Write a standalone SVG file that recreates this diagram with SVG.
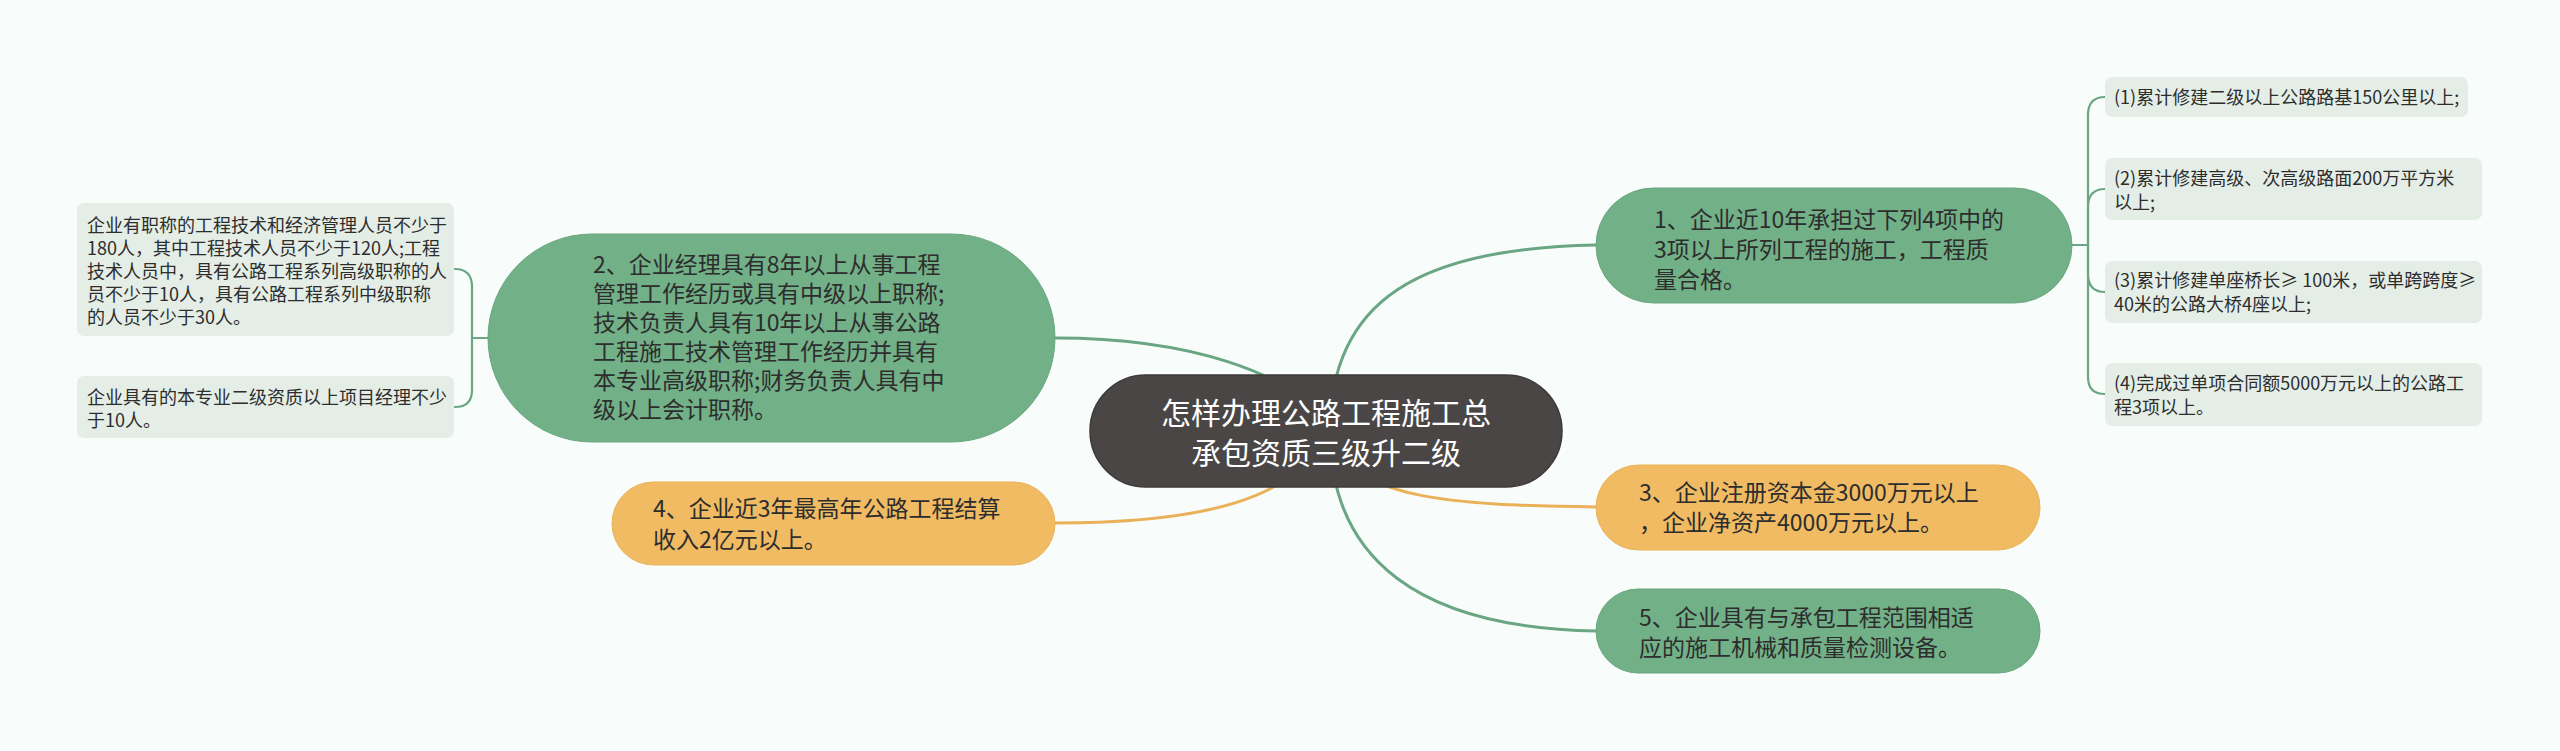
<svg xmlns="http://www.w3.org/2000/svg" width="2560" height="751" viewBox="0 0 2560 751">
<style>
text{font-family:"Noto Sans CJK SC","Noto Sans",sans-serif;fill:#2d2d2d}
.l1{font-size:23px}
.dt{font-size:18px}
.root{font-size:30px;fill:#ffffff;text-anchor:middle}
.green{fill:#72b088;stroke:#68a67e;stroke-width:1}
.orange{fill:#f0bb63;stroke:#e9b258;stroke-width:1}
.detail{fill:#e4eee7}
.cg{fill:none;stroke:#6aa683;stroke-width:3;stroke-linecap:round}
.co{fill:none;stroke:#ebb158;stroke-width:3;stroke-linecap:round}
.cd{fill:none;stroke:#6aa683;stroke-width:2.2;stroke-linecap:round}
</style>
<rect width="2560" height="751" fill="#f8fdfc"/>
<g id="connectors">
<path class="cg" d="M1055 338 C1180 338 1300 370 1326 431"/>
<path class="cg" d="M1330 431 C1330 300 1420 248 1596 245"/>
<path class="cg" d="M1330 431 C1330 560 1420 628 1596 631"/>
<path class="co" d="M1326 431 C1350 500 1450 505 1596 507"/>
<path class="co" d="M1326 431 C1300 500 1200 523 1055 523"/>
<path class="cd" d="M488 338 H472 V287 Q472 269 455 269"/>
<path class="cd" d="M472 338 V390 Q472 407 455 407"/>
<path class="cd" d="M2072 245 H2088 V115 Q2088 97 2105 97"/>
<path class="cd" d="M2088 245 V207 Q2088 189 2105 189"/>
<path class="cd" d="M2088 245 V274 Q2088 292 2105 292"/>
<path class="cd" d="M2088 245 V377 Q2088 394 2105 394"/>
</g>
<g id="root">
<rect x="1090" y="375" width="472" height="112" rx="56" fill="#4b4646" stroke="#3e3a3a" stroke-width="1.5"/>
<text class="root" x="1326" y="424">怎样办理公路工程施工总</text>
<text class="root" x="1326" y="464">承包资质三级升二级</text>
</g>
<g id="n1">
<rect class="green" x="1596" y="188" width="476" height="115" rx="57.5"/>
<text class="l1" x="1654" y="228">1、企业近10年承担过下列4项中的</text>
<text class="l1" x="1654" y="258">3项以上所列工程的施工，工程质</text>
<text class="l1" x="1654" y="288">量合格。</text>
</g>
<g id="n2">
<rect class="green" x="488" y="234" width="567" height="208" rx="104"/>
<text class="l1" x="593" y="273">2、企业经理具有8年以上从事工程</text>
<text class="l1" x="593" y="302">管理工作经历或具有中级以上职称;</text>
<text class="l1" x="593" y="331">技术负责人具有10年以上从事公路</text>
<text class="l1" x="593" y="360">工程施工技术管理工作经历并具有</text>
<text class="l1" x="593" y="389">本专业高级职称;财务负责人具有中</text>
<text class="l1" x="593" y="418">级以上会计职称。</text>
</g>
<g id="n3">
<rect class="orange" x="1596" y="465" width="444" height="85" rx="42.5"/>
<text class="l1" x="1639" y="501">3、企业注册资本金3000万元以上</text>
<text class="l1" x="1639" y="531">，企业净资产4000万元以上。</text>
</g>
<g id="n4">
<rect class="orange" x="612" y="482" width="443" height="83" rx="41.5"/>
<text class="l1" x="653" y="517">4、企业近3年最高年公路工程结算</text>
<text class="l1" x="653" y="548">收入2亿元以上。</text>
</g>
<g id="n5">
<rect class="green" x="1596" y="589" width="444" height="84" rx="42"/>
<text class="l1" x="1639" y="626">5、企业具有与承包工程范围相适</text>
<text class="l1" x="1639" y="656">应的施工机械和质量检测设备。</text>
</g>
<g id="d2a">
<rect class="detail" x="77" y="203" width="377" height="133" rx="7"/>
<text class="dt" x="87" y="232">企业有职称的工程技术和经济管理人员不少于</text>
<text class="dt" x="87" y="255">180人，其中工程技术人员不少于120人;工程</text>
<text class="dt" x="87" y="278">技术人员中，具有公路工程系列高级职称的人</text>
<text class="dt" x="87" y="301">员不少于10人，具有公路工程系列中级职称</text>
<text class="dt" x="87" y="324">的人员不少于30人。</text>
</g>
<g id="d2b">
<rect class="detail" x="77" y="376" width="377" height="62" rx="7"/>
<text class="dt" x="87" y="404">企业具有的本专业二级资质以上项目经理不少</text>
<text class="dt" x="87" y="427">于10人。</text>
</g>
<g id="d1a">
<rect class="detail" x="2105" y="77" width="363" height="40" rx="7"/>
<text class="dt" x="2114" y="104">(1)累计修建二级以上公路路基150公里以上;</text>
</g>
<g id="d1b">
<rect class="detail" x="2105" y="158" width="377" height="62" rx="7"/>
<text class="dt" x="2114" y="185">(2)累计修建高级、次高级路面200万平方米</text>
<text class="dt" x="2114" y="209">以上;</text>
</g>
<g id="d1c">
<rect class="detail" x="2105" y="261" width="377" height="62" rx="7"/>
<text class="dt" x="2114" y="287">(3)累计修建单座桥长≥ 100米，或单跨跨度≥</text>
<text class="dt" x="2114" y="311">40米的公路大桥4座以上;</text>
</g>
<g id="d1d">
<rect class="detail" x="2105" y="363" width="377" height="63" rx="7"/>
<text class="dt" x="2114" y="390">(4)完成过单项合同额5000万元以上的公路工</text>
<text class="dt" x="2114" y="414">程3项以上。</text>
</g>
</svg>
